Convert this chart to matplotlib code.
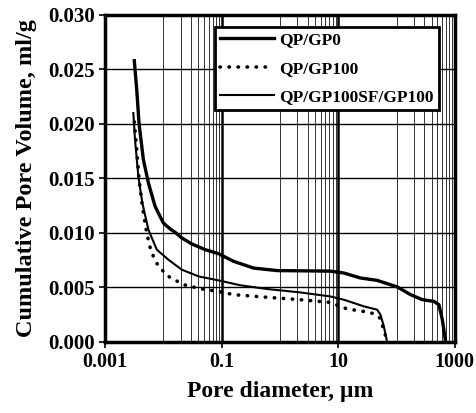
import matplotlib.pyplot as plt
from matplotlib.ticker import FixedLocator, NullFormatter

# pore diameter (um) and cumulative pore volume (ml/g)
d_gp0 = [0.00318, 0.0035, 0.00384, 0.00455, 0.00555, 0.00723, 0.010, 0.0131, 0.016,
         0.0208, 0.0309, 0.0523, 0.0885, 0.16, 0.353, 0.89, 7.3, 12.4, 24, 46.5, 103,
         174, 276, 437, 533, 609, 695]
v_gp0 = [0.0258, 0.02315, 0.0200, 0.01673, 0.01459, 0.01244, 0.01092, 0.01037, 0.01005,
         0.00954, 0.00899, 0.00847, 0.0081, 0.0074, 0.00678, 0.00655, 0.0065, 0.00633,
         0.00587, 0.00565, 0.00505, 0.00434, 0.00388, 0.00372, 0.00342, 0.00205, 0.0]

d_gp100 = [0.00318, 0.0035, 0.00384, 0.00437, 0.00519, 0.00616, 0.00824, 0.0122, 0.0221,
           0.0459, 0.0885, 0.16, 0.6, 2.2, 7.3, 14.2, 27.4, 40.7, 51.6, 60.5, 69]
v_gp100 = [0.0202, 0.01764, 0.01489, 0.01244, 0.0100, 0.00831, 0.00694, 0.00602, 0.00526,
           0.00486, 0.00464, 0.00434, 0.0041, 0.00388, 0.00363, 0.00303, 0.0028, 0.0026,
           0.0022, 0.00113, 0.0]

d_sf = [0.00306, 0.00327, 0.00373, 0.00437, 0.00555, 0.00773, 0.0122, 0.0208, 0.0401,
        0.0885, 0.21, 0.6, 2.2, 7.3, 12.4, 27.4, 46.5, 53, 60.5, 69]
v_sf = [0.0210, 0.01856, 0.01519, 0.01275, 0.0103, 0.00847, 0.00755, 0.00663, 0.00602,
        0.00565, 0.0052, 0.00486, 0.00455, 0.00418, 0.00388, 0.00327, 0.00296, 0.0025,
        0.00143, 0.0]

x_ticks = [0.001, 0.1, 10, 1000]
x_labels = ['0.001', '0.1', '10', '1000']
y_ticks = [0.0, 0.005, 0.010, 0.015, 0.020, 0.025, 0.030]

plt.rcParams['font.family'] = ['Liberation Serif', 'DejaVu Serif']
plt.rcParams['font.weight'] = 'bold'

fig = plt.figure(figsize=(4.76, 4.13), dpi=100)
ax = fig.add_axes([0.2206, 0.172, 0.735, 0.7917])

ax.plot(d_gp0, v_gp0, color='black', lw=2.4, label='QP/GP0', zorder=3)
ax.plot(d_gp100, v_gp100, color='black', lw=2.6, linestyle=(0, (0.1, 2.4)),
        dash_capstyle='round', label='QP/GP100', zorder=3)
ax.plot(d_sf, v_sf, color='black', lw=1.5, label='QP/GP100SF/GP100', zorder=3)

ax.set_xscale('log')
ax.set_xlim(0.001, 1000)
ax.set_ylim(0, 0.030)

ax.set_xticks(x_ticks)
ax.set_xticklabels(x_labels)
minor = [k * 10.0 ** n for n in (-2, 0, 2) for k in range(1, 10)]
ax.xaxis.set_minor_locator(FixedLocator(minor))
ax.xaxis.set_minor_formatter(NullFormatter())
ax.set_yticks(y_ticks)
ax.set_yticklabels(['%.3f' % v for v in y_ticks])

ax.grid(True, which='major', axis='x', color='black', lw=1.8)
ax.grid(True, which='minor', axis='x', color='#333333', lw=0.7)
ax.grid(True, which='major', axis='y', color='black', lw=1.0)
ax.set_axisbelow(True)

ax.tick_params(which='major', direction='out', length=4, width=1.2)
ax.tick_params(axis='x', labelsize=14.5)
ax.tick_params(axis='y', labelsize=15)
ax.tick_params(which='minor', length=0)
for s in ax.spines.values():
    s.set_linewidth(2.5)

ax.set_xlabel('Pore diameter, \u00b5m', fontsize=17, fontweight='bold', labelpad=6)
ax.set_ylabel('Cumulative Pore Volume, ml/g', fontsize=17.5, fontweight='bold', labelpad=8)

leg = ax.legend(loc='upper right', bbox_to_anchor=(0.954, 0.963), borderaxespad=0,
                fontsize=12.5, handlelength=3.1, frameon=True, fancybox=False,
                framealpha=1, edgecolor='black', borderpad=0.3, labelspacing=0.7,
                handletextpad=0.3)
leg.get_frame().set_linewidth(2.0)
for t in leg.get_texts():
    t.set_fontweight('bold')

fig.savefig('out.png', dpi=100)
